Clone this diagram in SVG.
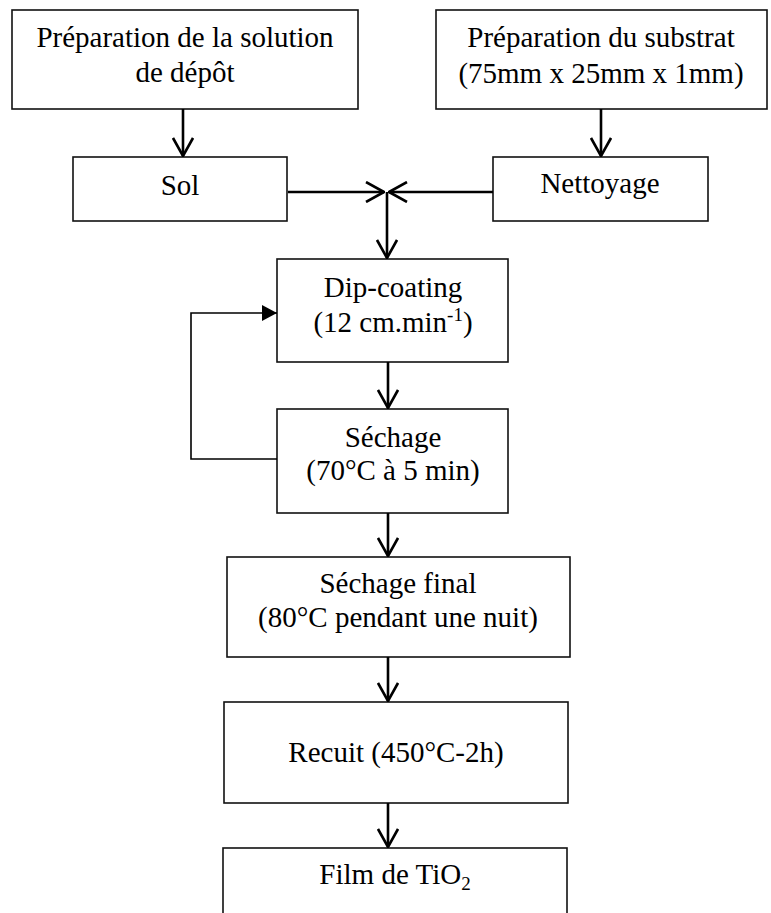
<svg xmlns="http://www.w3.org/2000/svg" width="771" height="913" viewBox="0 0 771 913">
<style>
.box{fill:#fff;stroke:#111;stroke-width:1.6}
.t{font-family:"Liberation Serif","Times New Roman",serif;font-size:29px;fill:#000;text-anchor:middle}
.c{fill:none;stroke:#000;stroke-width:2.6}
.fb{fill:none;stroke:#000;stroke-width:1.6}
</style>
<defs>
<marker id="open" viewBox="0 0 20 22" refX="19" refY="11" markerWidth="20" markerHeight="22" markerUnits="userSpaceOnUse" orient="auto">
<path d="M1,1 L19,11 L1,21" fill="none" stroke="#000" stroke-width="2.6"/>
</marker>
<marker id="solid" viewBox="0 0 15 16" refX="15" refY="8" markerWidth="15" markerHeight="16" markerUnits="userSpaceOnUse" orient="auto">
<path d="M0,0 L15,8 L0,16 Z" fill="#000"/>
</marker>
</defs>
<g id="n-prep-solution">
<rect class="box" x="12" y="10" width="346" height="99"/>
<text class="t" x="185" y="47">Préparation de la solution</text>
<text class="t" x="185" y="82">de dépôt</text>
</g>
<g id="n-prep-substrat">
<rect class="box" x="436" y="10" width="331" height="99"/>
<text class="t" x="601" y="47">Préparation du substrat</text>
<text class="t" x="601" y="83">(75mm x 25mm x 1mm)</text>
</g>
<g id="n-sol">
<rect class="box" x="73" y="157" width="214" height="64"/>
<text class="t" x="180" y="195">Sol</text>
</g>
<g id="n-nettoyage">
<rect class="box" x="493" y="157" width="215" height="64"/>
<text class="t" x="600" y="193">Nettoyage</text>
</g>
<g id="n-dip">
<rect class="box" x="277" y="259" width="231" height="103"/>
<text class="t" x="393" y="297">Dip-coating</text>
<text class="t" x="393" y="332">(12 cm.min<tspan font-size="19" dy="-11">-1</tspan><tspan dy="11">)</tspan></text>
</g>
<g id="n-sechage">
<rect class="box" x="277" y="409" width="231" height="104"/>
<text class="t" x="393" y="447">Séchage</text>
<text class="t" x="393" y="480">(70°C à 5 min)</text>
</g>
<g id="n-sechage-final">
<rect class="box" x="227" y="557" width="343" height="100"/>
<text class="t" x="398" y="593">Séchage final</text>
<text class="t" x="398" y="627">(80°C pendant une nuit)</text>
</g>
<g id="n-recuit">
<rect class="box" x="224" y="702" width="344" height="101"/>
<text class="t" x="396" y="762">Recuit (450°C-2h)</text>
</g>
<g id="n-film">
<rect class="box" x="223" y="848" width="344" height="90"/>
<text class="t" x="395" y="884">Film de TiO<tspan font-size="19" dy="6">2</tspan></text>
</g>
<g id="connectors">
<line class="c" x1="183" y1="109" x2="183" y2="156" marker-end="url(#open)"/>
<line class="c" x1="601" y1="109" x2="601" y2="156" marker-end="url(#open)"/>
<line class="c" x1="288" y1="192" x2="384" y2="192" marker-end="url(#open)"/>
<line class="c" x1="493" y1="192" x2="389" y2="192" marker-end="url(#open)"/>
<line class="c" x1="387" y1="192" x2="387" y2="258" marker-end="url(#open)"/>
<line class="c" x1="388" y1="362" x2="388" y2="408" marker-end="url(#open)"/>
<line class="c" x1="388" y1="513" x2="388" y2="556" marker-end="url(#open)"/>
<line class="c" x1="388" y1="657" x2="388" y2="701" marker-end="url(#open)"/>
<line class="c" x1="388" y1="803" x2="388" y2="847" marker-end="url(#open)"/>
<path class="fb" d="M277,459 H191 V313 H277" marker-end="url(#solid)"/>
</g>
</svg>
